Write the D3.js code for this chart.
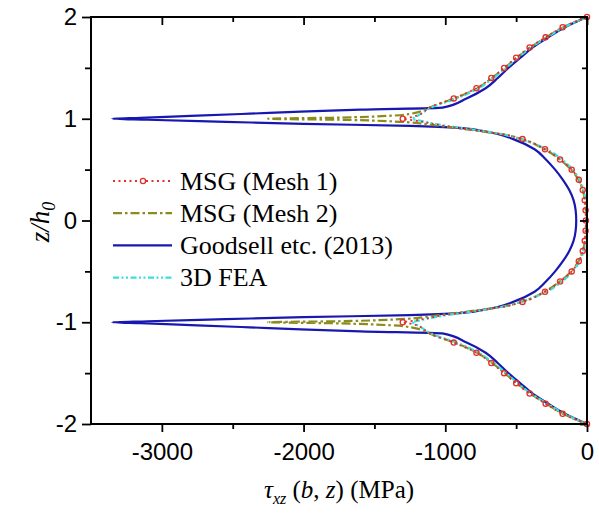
<!DOCTYPE html>
<html>
<head>
<meta charset="utf-8">
<script src="https://cdn.jsdelivr.net/npm/d3@7/dist/d3.min.js"></script>
<style>
  body { margin: 0; background: #fff; }
  svg { display: block; }
  .axis text { font-family: "Liberation Sans", Arial, sans-serif; font-size: 24px; fill: #000; }
  .axis line { stroke: #000; stroke-width: 1.8px; }
  .axis path { display: none; }
  .serif { font-family: "Liberation Serif", "Times New Roman", serif; fill: #000; }
</style>
</head>
<body>
<div id="chart"></div>
<script>
// z/h0 levels (shared by every series)
var zLevels = [-2, -1.9, -1.8, -1.7, -1.6, -1.5, -1.4, -1.3, -1.2, -1.11, -1.09, -1.07, -1.05, -1.03, -1.01, -1,
  -0.99, -0.97, -0.95, -0.93, -0.91, -0.88, -0.85, -0.8, -0.7, -0.6, -0.5, -0.4, -0.3, -0.2, -0.1,
  0, 0.1, 0.2, 0.3, 0.4, 0.5, 0.6, 0.7, 0.8, 0.85, 0.88, 0.91, 0.93, 0.95, 0.97, 0.99,
  1, 1.01, 1.03, 1.05, 1.07, 1.09, 1.11, 1.2, 1.3, 1.4, 1.5, 1.6, 1.7, 1.8, 1.9, 2];

// tau_xz (MPa) at each z level
var msgMesh1 = [0, -172, -292, -405, -500, -585, -675, -780, -940, -1110, -1130, -1150, -1170, -1200, -1260, -1300,
  -1250, -1160, -1090, -1010, -910, -760, -600, -455, -296, -190, -108, -58, -30, -16, -10,
  -8, -10, -16, -30, -58, -108, -190, -296, -455, -600, -760, -910, -1010, -1090, -1160, -1250,
  -1300, -1260, -1200, -1170, -1150, -1130, -1110, -940, -780, -675, -585, -500, -405, -292, -172, 0];

var msgMesh2 = [0, -168, -288, -400, -495, -580, -670, -775, -935, -1110, -1140, -1180, -1240, -1380, -1800, -2250,
  -1750, -1320, -1150, -1040, -925, -765, -610, -465, -300, -192, -112, -60, -30, -14, -8,
  -6, -8, -14, -30, -60, -112, -192, -300, -465, -610, -765, -925, -1040, -1150, -1320, -1750,
  -2250, -1800, -1380, -1240, -1180, -1140, -1110, -935, -775, -670, -580, -495, -400, -288, -168, 0];

var goodsell = [0, -155, -275, -385, -470, -555, -630, -715, -850, -1020, -1600, -2020, -2380, -2750, -3150, -3350,
  -3100, -2550, -2000, -1250, -900, -740, -630, -520, -370, -290, -225, -170, -125, -95, -80,
  -76, -80, -95, -125, -170, -225, -290, -370, -520, -630, -740, -900, -1250, -2000, -2550, -3100,
  -3350, -3150, -2750, -2380, -2020, -1600, -1020, -850, -715, -630, -555, -470, -385, -275, -155, 0];

var fea3d = [0, -160, -282, -395, -488, -570, -660, -765, -920, -1100, -1125, -1150, -1170, -1195, -1220, -1235,
  -1210, -1140, -1070, -990, -890, -740, -605, -470, -285, -178, -100, -52, -24, -10, -4,
  -2, -4, -10, -24, -52, -100, -178, -285, -470, -605, -740, -890, -990, -1070, -1140, -1210,
  -1235, -1220, -1195, -1170, -1150, -1125, -1100, -920, -765, -660, -570, -488, -395, -282, -160, 0];

var xTicks = [-3000, -2000, -1000, 0];
var xMinor = [-2500, -1500, -500];
var yTicks = [-2, -1, 0, 1, 2];
var yMinor = [-1.5, -0.5, 0.5, 1.5];

var legendNames = ["MSG (Mesh 1)", "MSG (Mesh 2)", "Goodsell etc. (2013)", "3D FEA"];

var width = 599, height = 514;
var margin = {top: 17, right: 12, bottom: 90, left: 91};

var svg = d3.select("#chart").append("svg")
    .attr("width", width)
    .attr("height", height);

var x = d3.scaleLinear().domain([-3500, 0]).range([margin.left, width - margin.right]);
var y = d3.scaleLinear().domain([-2, 2]).range([height - margin.bottom, margin.top]);

var series = [
  {name: legendNames[0], vals: msgMesh1, color: "#e0302a", width: 1.8, dash: "2,3.5", marker: true},
  {name: legendNames[1], vals: msgMesh2, color: "#8c8c1e", width: 2.2, dash: "9,3,2.5,3", marker: false},
  {name: legendNames[2], vals: goodsell, color: "#1818b0", width: 2.2, dash: null, marker: false},
  {name: legendNames[3], vals: fea3d, color: "#38e0e0", width: 2.2, dash: "6,2.5,2,2.5,2,2.5", marker: false}
];

var line = d3.line()
    .x(function(d) { return x(d.t); })
    .y(function(d) { return y(d.z); })
    .curve(d3.curveMonotoneY);

// draw order: blue underneath
var drawOrder = [2, 1, 3, 0];
drawOrder.forEach(function(i) {
  var s = series[i];
  var pts = zLevels.map(function(z, k) { return {z: z, t: s.vals[k]}; }).reverse();
  svg.append("path")
    .datum(pts)
    .attr("d", line)
    .attr("fill", "none")
    .attr("stroke", s.color)
    .attr("stroke-width", s.width)
    .attr("stroke-dasharray", s.dash);
  if (s.marker) {
    svg.selectAll(".mk")
      .data(pts.filter(function(d) { return Math.abs(d.z * 10 - Math.round(d.z * 10)) < 1e-6; }))
      .enter().append("circle")
      .attr("class", "mk")
      .attr("cx", function(d) { return x(d.t); })
      .attr("cy", function(d) { return y(d.z); })
      .attr("r", 2.6)
      .attr("fill", "none")
      .attr("stroke", s.color)
      .attr("stroke-width", 1.3);
  }
});

// axes
var fmt = function(d) { return String(d); };
svg.append("g").attr("class", "axis")
    .attr("transform", "translate(0," + y(-2) + ")")
    .call(d3.axisBottom(x).tickValues(xTicks).tickFormat(fmt).tickSize(8).tickPadding(11));
svg.append("g").attr("class", "axis")
    .attr("transform", "translate(0," + y(-2) + ")")
    .call(d3.axisBottom(x).tickValues(xMinor).tickFormat("").tickSize(5));

svg.append("g").attr("class", "axis")
    .attr("transform", "translate(0," + y(2) + ")")
    .call(d3.axisTop(x).tickValues(xTicks).tickFormat("").tickSize(-8));
svg.append("g").attr("class", "axis")
    .attr("transform", "translate(0," + y(2) + ")")
    .call(d3.axisTop(x).tickValues(xMinor).tickFormat("").tickSize(-5));

svg.append("g").attr("class", "axis")
    .attr("transform", "translate(" + x(-3500) + ",0)")
    .call(d3.axisLeft(y).tickValues(yTicks).tickFormat(fmt).tickSize(9).tickPadding(5));
svg.append("g").attr("class", "axis")
    .attr("transform", "translate(" + x(-3500) + ",0)")
    .call(d3.axisLeft(y).tickValues(yMinor).tickFormat("").tickSize(6));

svg.append("g").attr("class", "axis")
    .attr("transform", "translate(" + x(0) + ",0)")
    .call(d3.axisRight(y).tickValues(yTicks).tickFormat("").tickSize(-7));
svg.append("g").attr("class", "axis")
    .attr("transform", "translate(" + x(0) + ",0)")
    .call(d3.axisRight(y).tickValues(yMinor).tickFormat("").tickSize(-5));

// frame
svg.append("rect")
    .attr("x", x(-3500)).attr("y", y(2))
    .attr("width", x(0) - x(-3500)).attr("height", y(-2) - y(2))
    .attr("fill", "none").attr("stroke", "#000").attr("stroke-width", 2);

// legend
var legend = svg.append("g");
series.forEach(function(s, i) {
  var ly = 181 + i * 32.2;
  legend.append("line")
    .attr("x1", 113).attr("x2", 172).attr("y1", ly).attr("y2", ly)
    .attr("stroke", s.color).attr("stroke-width", s.width)
    .attr("stroke-dasharray", s.dash);
  if (s.marker) {
    legend.append("circle").attr("cx", 143).attr("cy", ly).attr("r", 2.6)
      .attr("fill", "#fff").attr("stroke", s.color).attr("stroke-width", 1.3);
  }
  legend.append("text").attr("class", "serif")
    .attr("x", 180).attr("y", ly).attr("dy", "0.33em")
    .style("font-size", "26px")
    .text(s.name);
});

// x label
var xl = svg.append("text").attr("class", "serif")
    .attr("x", 264).attr("y", 498).style("font-size", "25px");
xl.append("tspan").style("font-style", "italic").text("\u03c4");
xl.append("tspan").style("font-style", "italic").style("font-size", "16px").attr("dy", 6).text("xz");
xl.append("tspan").attr("dy", -6).text(" (");
xl.append("tspan").style("font-style", "italic").text("b");
xl.append("tspan").text(", ");
xl.append("tspan").style("font-style", "italic").text("z");
xl.append("tspan").text(") (MPa)");

// y label
var yl = svg.append("text").attr("class", "serif")
    .attr("transform", "translate(49,222) rotate(-90)")
    .attr("text-anchor", "middle")
    .style("font-size", "27px").style("font-style", "italic");
yl.append("tspan").text("z/h");
yl.append("tspan").style("font-size", "18px").attr("dy", 6).text("0");
</script>
</body>
</html>
